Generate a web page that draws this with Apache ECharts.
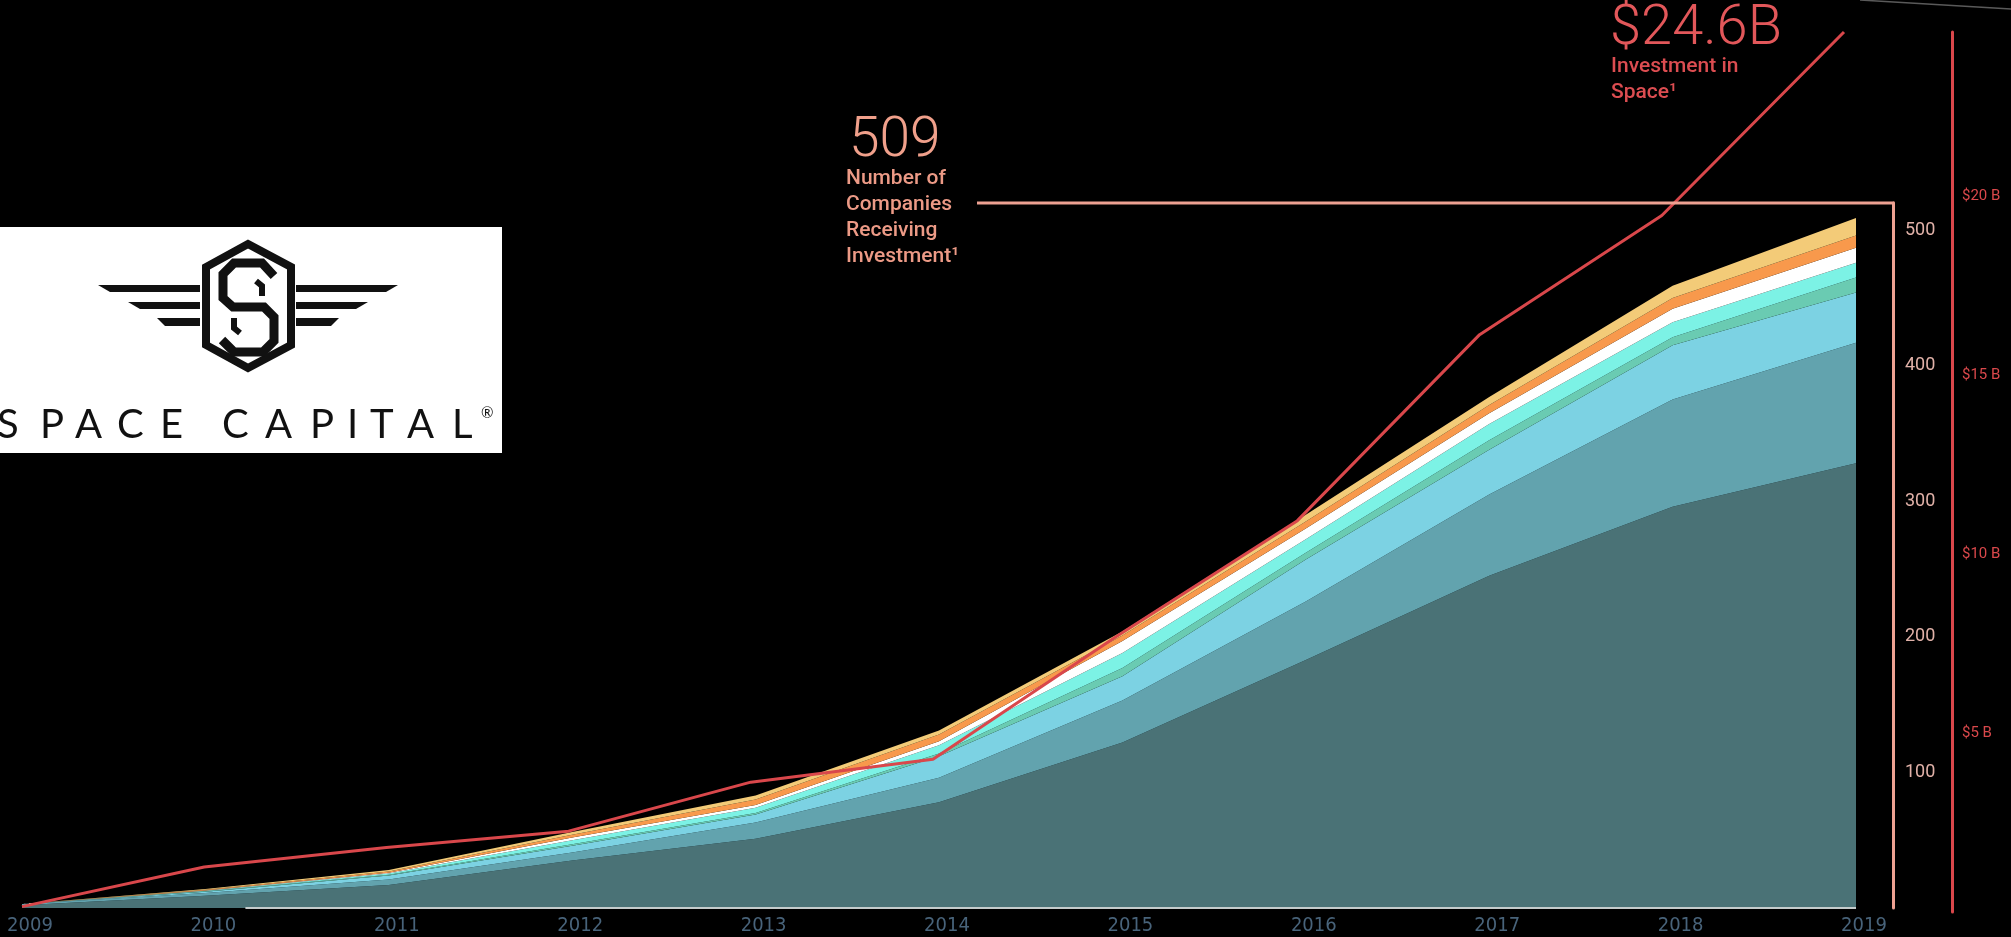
<!DOCTYPE html>
<html><head><meta charset="utf-8">
<script src="https://cdn.jsdelivr.net/npm/echarts@6/dist/echarts.min.js"></script>
<style>html,body{margin:0;padding:0;background:#000;overflow:hidden}#c{width:2011px;height:937px}</style>
</head><body><div id="c"></div>
<script>
// ---- data ----
const years = ['2009','2010','2011','2012','2013','2014','2015','2016','2017','2018','2019'];
const layerDark      = [2, 9, 17, 35, 51, 78, 122, 183, 245, 296, 328];
const layerTeal      = [1, 2, 4, 6, 12, 18, 31, 43, 60, 79, 89];
const layerLightBlue = [0, 1, 3, 5, 6, 16, 18, 31, 33, 40, 37];
const layerGreen     = [0, 0.3, 0.5, 1, 1, 2, 6, 5, 7, 6, 11];
const layerCyan      = [0, 0.5, 1, 3, 4, 6, 11, 10, 12, 11, 11];
const layerWhite     = [0, 0.2, 0.5, 2, 2, 3, 9, 8, 8, 10, 11];
const layerOrange    = [0, 0.5, 1, 2, 4, 5, 4, 5, 6, 8, 9];
const layerYellow    = [0, 0.5, 1, 2, 3, 3, 3, 5, 6, 9, 13];
const investment     = [0.15, 1.26, 1.80, 2.26, 3.63, 4.27, 7.68, 10.94, 16.14, 19.47, 24.6];
const countTicks  = [100, 200, 300, 400, 500];
const investTicks = [5, 10, 15, 20];

const layers = [
  {name:'L1', data: layerDark,      color:'#4a7276'},
  {name:'L2', data: layerTeal,      color:'#62a3ae'},
  {name:'L3', data: layerLightBlue, color:'#7cd2e3'},
  {name:'L4', data: layerGreen,     color:'#6acbb2'},
  {name:'L5', data: layerCyan,      color:'#7cf2e5'},
  {name:'L6', data: layerWhite,     color:'#ffffff'},
  {name:'L7', data: layerOrange,    color:'#f8994c'},
  {name:'L8', data: layerYellow,    color:'#f3cb78'}
];

const chart = echarts.init(document.getElementById('c'), null, {renderer:'canvas'});
const salmon = '#eea192';
const red = '#d9474b';

const series = layers.map(l => ({
  name: l.name, type:'line', xAxisIndex:0, yAxisIndex:0, stack:'total',
  data: l.data, symbol:'none', showSymbol:false, smooth:false,
  lineStyle:{width:0, color:l.color}, areaStyle:{color:l.color, opacity:1},
  itemStyle:{color:l.color}, z:2, silent:true
}));
series.push({
  name:'Investment', type:'line', xAxisIndex:1, yAxisIndex:1, data: investment,
  symbol:'none', showSymbol:false, lineStyle:{width:3, color:red}, itemStyle:{color:red},
  z:5, clip:false, silent:true
});

// logo elements
const logo = [];
logo.push({type:'rect', shape:{x:0,y:227,width:502,height:226}, style:{fill:'#ffffff'}, z:10});
logo.push({type:'polygon', shape:{points:[[248,244],[291,267],[291,345],[248,368],[206,345],[206,267]]},
  style:{fill:'none', stroke:'#111', lineWidth:8, lineJoin:'miter'}, z:11});
logo.push({type:'polyline', shape:{points:[[274,276],[262,263],[234,263],[223,274],[223,298],[233,307],[264,307],[274,317],[274,341],[263,352],[234,352],[222,340]]},
  style:{fill:'none', stroke:'#111', lineWidth:9, lineJoin:'miter'}, z:11});
logo.push({type:'polyline', shape:{points:[[256,281],[262,286],[262,296]]},
  style:{fill:'none', stroke:'#111', lineWidth:6, lineJoin:'miter'}, z:11});
logo.push({type:'polyline', shape:{points:[[240,333],[234,328],[234,318]]},
  style:{fill:'none', stroke:'#111', lineWidth:6, lineJoin:'miter'}, z:11});
const wings = [[[98,285],[200,285],[200,292],[110,292]],[[128,302],[200,302],[200,309],[140,309]],[[157,318],[200,318],[200,326],[165,326]]];
wings.forEach(w => {
  logo.push({type:'polygon', shape:{points:w}, style:{fill:'#111'}, z:11});
  logo.push({type:'polygon', shape:{points:w.map(p=>[496-p[0],p[1]])}, style:{fill:'#111'}, z:11});
});
const letters = 'SPACECAPITAL'.split('');
const letterX = [-3, 40, 75, 117, 160, 222, 265, 310, 347, 370, 407, 452];
letters.forEach((ch,i) => {
  logo.push({type:'text', x:letterX[i], y:445, style:{text:ch, fill:'#111', font:'400 40px Lato, "Open Sans", sans-serif', textVerticalAlign:'bottom', verticalAlign:'bottom'}, z:12});
});
logo.push({type:'text', x:481, y:406, style:{text:'®', fill:'#111', font:'400 15px Lato, sans-serif'}, z:12});

const option = {
  backgroundColor:'#000000',
  animation:false,
  grid:[
    {left:22, right:155, top:203, bottom:29, containLabel:false, outerBoundsMode:'none'},
    {left:22, right:167, top:32, bottom:25, containLabel:false, outerBoundsMode:'none'}
  ],
  xAxis:[
    {type:'category', gridIndex:0, data:years, boundaryGap:false,
     axisLine:{show:false}, axisTick:{show:false}, splitLine:{show:false},
     axisLabel:{color:'#48637a', fontSize:20, margin:8, padding:[0,0,0,16],
       fontFamily:'"Liberation Sans Narrow","DejaVu Sans Condensed","Roboto Condensed",sans-serif'}},
    {type:'category', gridIndex:1, data:years, boundaryGap:false, show:false}
  ],
  yAxis:[
    {type:'value', gridIndex:0, position:'right', offset:37, min:0, max:520, interval:100,
     axisLine:{show:true, lineStyle:{color:salmon, width:3}}, axisTick:{show:false}, splitLine:{show:false},
     axisLabel:{color:'#e0b1a8', fontSize:18, margin:12, fontFamily:'Roboto, sans-serif',
       showMinLabel:false, formatter: v => countTicks.includes(v) ? String(v) : ''}},
    {type:'value', gridIndex:1, position:'right', offset:108, min:0, max:24.6, interval:5,
     axisLine:{show:true, lineStyle:{color:red, width:3}}, axisTick:{show:false}, splitLine:{show:false},
     axisLabel:{color:'#d9484b', fontSize:15, margin:10, fontFamily:'Roboto, sans-serif',
       showMinLabel:false, formatter: v => investTicks.includes(v) ? ('$' + v + ' B') : ''}}
  ],
  series: series
};
chart.setOption(option);

// annotation geometry derived from the axes
const yTop = chart.convertToPixel({yAxisIndex:0}, 520);
const axisX = chart.convertToPixel({xAxisIndex:0}, '2019') + 37;
const x2010 = chart.convertToPixel({xAxisIndex:0}, '2010');
const x2019 = chart.convertToPixel({xAxisIndex:0}, '2019');
const yBase = chart.convertToPixel({yAxisIndex:0}, 0);

const graphics = logo.concat([
  {type:'line', shape:{x1:977, y1:yTop, x2:axisX+1.5, y2:yTop}, style:{stroke:salmon, lineWidth:3}, z:6},
  {type:'line', shape:{x1:x2010+40, y1:yBase, x2:x2019, y2:yBase}, style:{stroke:'#c4cccc', lineWidth:2}, z:6},
  {type:'line', shape:{x1:1860, y1:0, x2:2011, y2:9}, style:{stroke:'#5a5a5a', lineWidth:1.5}, z:6},
  {type:'text', x:849, y:142, style:{text:'509', fill:'#f0a08b', font:'300 55px Roboto, sans-serif', verticalAlign:'middle', textVerticalAlign:'middle'}, z:7},
  {type:'text', x:846, y:166, style:{text:'Number of\nCompanies\nReceiving\nInvestment\u00b9', fill:'#ec9a86', font:'500 21px Roboto, sans-serif', lineHeight:25.8, verticalAlign:'top', textVerticalAlign:'top'}, z:7},
  {type:'text', x:1610, y:30, style:{text:'$24.6B', fill:'#e2575a', font:'300 56px Roboto, sans-serif', verticalAlign:'middle', textVerticalAlign:'middle'}, z:7},
  {type:'text', x:1611, y:54, style:{text:'Investment in\nSpace\u00b9', fill:'#dc4d51', font:'500 21px Roboto, sans-serif', lineHeight:25.5, verticalAlign:'top', textVerticalAlign:'top'}, z:7}
]);
chart.setOption({graphic: graphics});
</script>
</body></html>
